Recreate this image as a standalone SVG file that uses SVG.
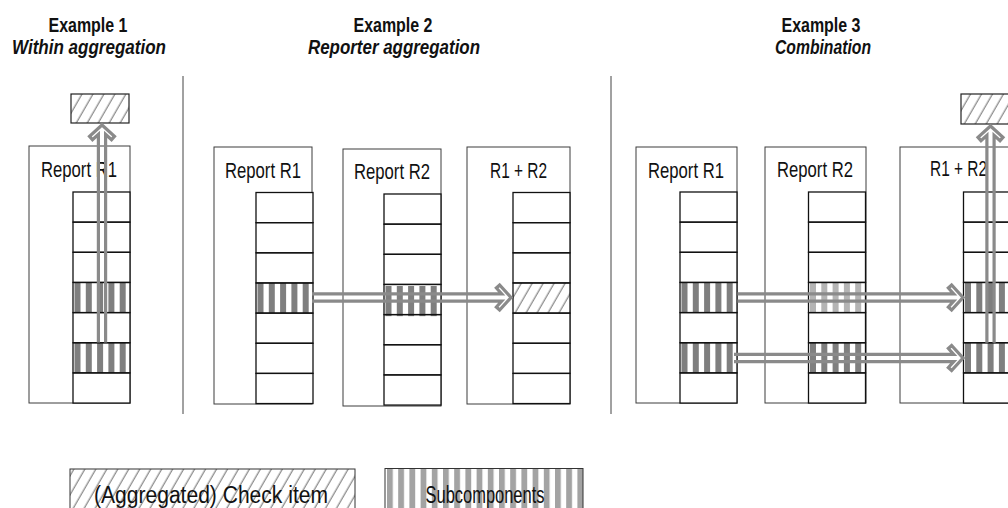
<svg xmlns="http://www.w3.org/2000/svg" width="1008" height="508" viewBox="0 0 1008 508">
  <style>
    .title { font-family: "Liberation Sans", Arial, sans-serif; font-weight: bold; font-size: 20px; fill: #111; text-anchor: middle; }
    .subtitle { font-family: "Liberation Sans", Arial, sans-serif; font-weight: bold; font-style: italic; font-size: 20px; fill: #111; text-anchor: middle; }
    .label { font-family: "Liberation Sans", Arial, sans-serif; font-size: 22px; fill: #111; text-anchor: middle; }
    .legend { font-family: "Liberation Sans", Arial, sans-serif; font-size: 23px; fill: #111; text-anchor: middle; }
    .report { fill: #fff; stroke: #3c3c3c; stroke-width: 1; }
    .col { fill: #fff; stroke: none; }
    .cell { fill: none; stroke: #111; stroke-width: 1.3; }
    .check { fill: url(#hatch); stroke: #222; stroke-width: 1.2; }
    .sep { stroke: #444; stroke-width: 1; }
    .dark { fill: #7f7f7f; }
    .light { fill: #b4b4b4; }
    .arrow { fill: none; stroke: #8a8a8a; stroke-width: 3.2; stroke-linejoin: miter; }
  </style>
  <defs>
    <!-- diagonal hatching for (aggregated) check items -->
    <pattern id="hatch" width="9.5" height="10" patternUnits="userSpaceOnUse" patternTransform="rotate(30)">
      <rect width="9.5" height="10" fill="#fff"/>
      <line x1="4" y1="0" x2="4" y2="10" stroke="#555" stroke-width="0.9"/>
    </pattern>
    <!-- lighter vertical stripes for the legend -->
    <pattern id="legendStripes" x="387" width="11.2" height="10" patternUnits="userSpaceOnUse">
      <rect width="11.2" height="10" fill="#fff"/>
      <rect width="5.8" height="10" fill="#a3a3a3"/>
    </pattern>
    <!-- vertical bars of a subcomponent cell -->
    <g id="bars">
      <rect x="1.5" width="6" height="30.15"/>
      <rect x="12.8" width="6" height="30.15"/>
      <rect x="24.1" width="6" height="30.15"/>
      <rect x="35.4" width="6" height="30.15"/>
      <rect x="46.7" width="6" height="30.15"/>
    </g>
    <!-- seven-row item column -->
    <g id="cells">
      <rect class="cell" x="0" y="0" width="57" height="30.15"/>
      <rect class="cell" x="0" y="30.15" width="57" height="30.15"/>
      <rect class="cell" x="0" y="60.3" width="57" height="30.15"/>
      <rect class="cell" x="0" y="90.45" width="57" height="30.15"/>
      <rect class="cell" x="0" y="120.6" width="57" height="30.15"/>
      <rect class="cell" x="0" y="150.75" width="57" height="30.15"/>
      <rect class="cell" x="0" y="180.9" width="57" height="30.15"/>
    </g>
  </defs>

  <rect width="1008" height="508" fill="#fff"/>

  <!-- headings -->
  <g id="headings">
    <text class="title" x="88" y="32" textLength="79" lengthAdjust="spacingAndGlyphs">Example 1</text>
    <text class="subtitle" x="89" y="54" textLength="154" lengthAdjust="spacingAndGlyphs">Within aggregation</text>
    <text class="title" x="393" y="32" textLength="79" lengthAdjust="spacingAndGlyphs">Example 2</text>
    <text class="subtitle" x="394" y="54" textLength="172" lengthAdjust="spacingAndGlyphs">Reporter aggregation</text>
    <text class="title" x="821" y="32" textLength="79" lengthAdjust="spacingAndGlyphs">Example 3</text>
    <text class="subtitle" x="823" y="54" textLength="96" lengthAdjust="spacingAndGlyphs">Combination</text>
  </g>

  <!-- separators between the examples -->
  <g id="separators">
    <line class="sep" x1="183" y1="76" x2="183" y2="414"/>
    <line class="sep" x1="611" y1="76" x2="611" y2="414"/>
  </g>

  <!-- Example 1 -->
  <g id="ex1-check">
    <rect class="check" x="71" y="94" width="58" height="29"/>
  </g>
  <g id="ex1-r1">
    <rect class="report" x="29" y="146" width="101" height="257"/>
    <text class="label" x="79" y="177" textLength="76" lengthAdjust="spacingAndGlyphs">Report R1</text>
    <rect class="col" x="73" y="192" width="57" height="211"/>
    <use href="#bars" class="dark" x="73" y="282.45"/>
    <use href="#bars" class="dark" x="73" y="342.75"/>
    <use href="#cells" x="73" y="192"/>
  </g>

  <!-- Example 2 -->
  <g id="ex2-r1">
    <rect class="report" x="214" y="147" width="98" height="257"/>
    <text class="label" x="263" y="177.5" textLength="76" lengthAdjust="spacingAndGlyphs">Report R1</text>
    <rect class="col" x="256" y="192.5" width="57" height="211"/>
    <use href="#bars" class="dark" x="256" y="282.95"/>
    <use href="#cells" x="256" y="192.5"/>
  </g>
  <g id="ex2-r2">
    <rect class="report" x="343" y="149" width="98" height="257"/>
    <text class="label" x="392" y="178.5" textLength="76" lengthAdjust="spacingAndGlyphs">Report R2</text>
    <rect class="col" x="384" y="194" width="57" height="211"/>
    <use href="#bars" class="dark" x="384" y="286"/>
    <use href="#cells" x="384" y="194"/>
  </g>
  <g id="ex2-sum">
    <rect class="report" x="467" y="147" width="103" height="257"/>
    <text class="label" x="518.5" y="177.5" textLength="57" lengthAdjust="spacingAndGlyphs">R1 + R2</text>
    <rect class="col" x="513" y="192.5" width="57" height="211"/>
    <rect x="513" y="282.95" width="57" height="30.15" fill="url(#hatch)"/>
    <use href="#cells" x="513" y="192.5"/>
  </g>

  <!-- Example 3 -->
  <g id="ex3-check">
    <rect class="check" x="961" y="94" width="58" height="30"/>
  </g>
  <g id="ex3-r1">
    <rect class="report" x="636" y="147" width="101" height="256"/>
    <text class="label" x="686" y="177.5" textLength="76" lengthAdjust="spacingAndGlyphs">Report R1</text>
    <rect class="col" x="680" y="192" width="57" height="211"/>
    <use href="#bars" class="dark" x="680" y="282.45"/>
    <use href="#bars" class="dark" x="680" y="342.75"/>
    <use href="#cells" x="680" y="192"/>
  </g>
  <g id="ex3-r2">
    <rect class="report" x="765" y="147" width="101" height="256"/>
    <text class="label" x="815" y="176.5" textLength="76" lengthAdjust="spacingAndGlyphs">Report R2</text>
    <rect class="col" x="808.5" y="192" width="57" height="211"/>
    <use href="#bars" class="light" x="808.5" y="282.45"/>
    <use href="#bars" class="dark" x="808.5" y="342.75"/>
    <use href="#cells" x="808.5" y="192"/>
  </g>
  <g id="ex3-sum">
    <rect class="report" x="900" y="147" width="120" height="256"/>
    <text class="label" x="958.5" y="176" textLength="57" lengthAdjust="spacingAndGlyphs">R1 + R2</text>
    <rect class="col" x="963.5" y="192" width="57" height="211"/>
    <use href="#bars" class="dark" x="963.5" y="282.45"/>
    <use href="#bars" class="dark" x="963.5" y="342.75"/>
    <use href="#cells" x="963.5" y="192"/>
  </g>

  <!-- aggregation arrows: hollow double-line outlines, tip at the local origin -->
  <g id="connectors">
    <path class="arrow" transform="translate(102,128) rotate(-90)" d="M-214.5,-3.6 H-6.27 L-11.63,-9.52 L-8.37,-12.48 L3,0 L-8.37,12.48 L-11.63,9.52 L-6.27,3.6 H-214.5"/>
    <path class="arrow" transform="translate(508,297.5)" d="M-196,-3.6 H-6.27 L-11.63,-9.52 L-8.37,-12.48 L3,0 L-8.37,12.48 L-11.63,9.52 L-6.27,3.6 H-196"/>
    <path class="arrow" transform="translate(960,297.5)" d="M-222.5,-3.6 H-6.27 L-11.63,-9.52 L-8.37,-12.48 L3,0 L-8.37,12.48 L-11.63,9.52 L-6.27,3.6 H-222.5"/>
    <path class="arrow" transform="translate(960,358)" d="M-226,-3.6 H-6.27 L-11.63,-9.52 L-8.37,-12.48 L3,0 L-8.37,12.48 L-11.63,9.52 L-6.27,3.6 H-226"/>
    <path class="arrow" transform="translate(990.5,129) rotate(-90)" d="M-213.7,-3.6 H-6.27 L-11.63,-9.52 L-8.37,-12.48 L3,0 L-8.37,12.48 L-11.63,9.52 L-6.27,3.6 H-213.7"/>
  </g>

  <!-- legend -->
  <g id="legend-check">
    <rect x="70" y="469" width="285" height="45" fill="url(#hatch)" stroke="#333" stroke-width="1"/>
    <text class="legend" x="211" y="503" textLength="234" lengthAdjust="spacingAndGlyphs">(Aggregated) Check item</text>
  </g>
  <g id="legend-sub">
    <rect x="385" y="468.5" width="198" height="45" fill="url(#legendStripes)" stroke="#333" stroke-width="1"/>
    <text class="legend" x="485" y="503" textLength="119" lengthAdjust="spacingAndGlyphs">Subcomponents</text>
  </g>
</svg>
